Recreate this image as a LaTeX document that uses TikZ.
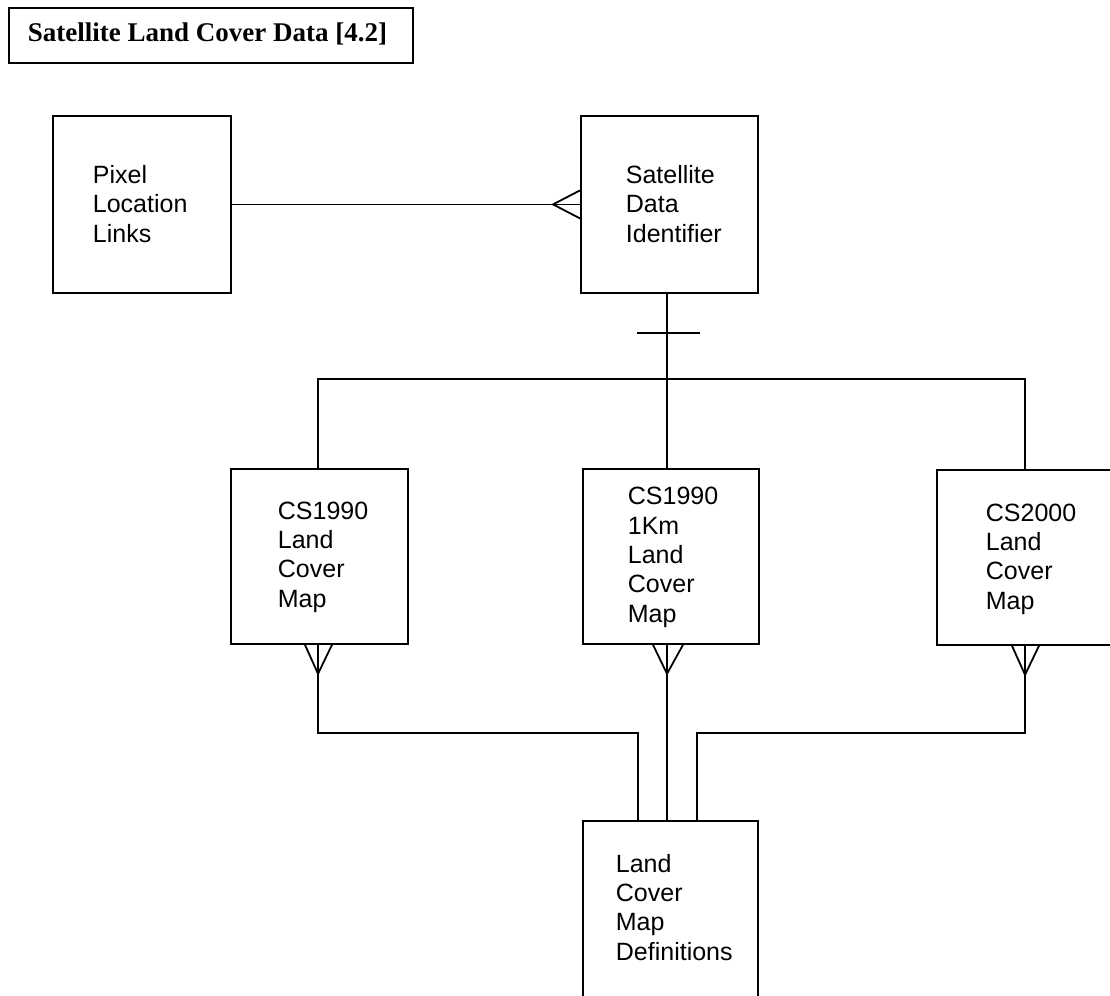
\documentclass[tikz,border=0pt]{standalone}
\usepackage{fontspec}
\setmainfont{Liberation Serif}
\newfontfamily\arialf{Liberation Sans}
\usetikzlibrary{calc}
\begin{document}
\begin{tikzpicture}[x=1pt,y=-1pt,line width=1.8pt,
  ebox/.style={draw,line width=1.8pt,anchor=north west,inner sep=0pt},
  lbl/.style={anchor=base west,align=left,inner sep=0pt,font=\arialf\fontsize{25}{29.3}\selectfont},
  ttl/.style={anchor=base west,inner sep=0pt,font=\bfseries\fontsize{27}{32}\selectfont}]
\useasboundingbox (0,0) rectangle (1110,995);
\clip (0,0) rectangle (1110,995);
% boxes
\node[ebox,minimum width=404pt,minimum height=55pt] (title) at (8,7) {};
\node[ebox,minimum width=178pt,minimum height=177pt] (pixel) at (52,115) {};
\node[ebox,minimum width=177pt,minimum height=177pt] (sat) at (580,115) {};
\node[ebox,minimum width=177pt,minimum height=175pt] (cs90) at (230,468) {};
\node[ebox,minimum width=176pt,minimum height=175pt] (mid) at (582,468) {};
\node[ebox,minimum width=180pt,minimum height=175pt] (cs20) at (936,469) {};
\node[ebox,minimum width=175pt,minimum height=200pt] (defs) at (582,820) {};
% texts (anchored at the baseline of the last line)
\node[ttl] (title-t) at (27,42) {Satellite Land Cover Data [4.2]};
\node[lbl] (pixel-t) at (92,242) {Pixel\\Location\\Links};
\node[lbl] (sat-t) at (625,242) {Satellite\\Data\\Identifier};
\node[lbl] (cs90-t) at (277,607) {CS1990\\Land\\Cover\\Map};
\node[lbl] (mid-t) at (627,622) {CS1990\\1Km\\Land\\Cover\\Map};
\node[lbl] (cs20-t) at (985,609) {CS2000\\Land\\Cover\\Map};
\node[lbl] (defs-t) at (615,960) {Land\\Cover\\Map\\Definitions};
% helper coordinates
\coordinate (j) at (667,379);
\coordinate (lx) at (318,379);
\coordinate (rx) at (1025,379);
\coordinate (bar) at (667,333);
\coordinate (la) at (638,733);
\coordinate (lc) at (697,733);
% pixel -- satellite (many at satellite)
\draw (pixel.east) -- (sat.west);
\draw ($(sat.west)+(0,-14)$) -- ($(sat.west)+(-27,0)$) -- ($(sat.west)+(0,14)$);
% satellite down to the three maps
\draw (sat.south -| j) -- (mid.north -| j);
\draw ($(bar)+(-30,0)$) -- ($(bar)+(33,0)$);
\draw (cs90.north -| lx) -- (lx) -- (rx) -- (cs20.north -| rx);
% maps down to definitions
\coordinate (fa) at (cs90.south -| lx);
\coordinate (fb) at (mid.south -| j);
\coordinate (fc) at (cs20.south -| rx);
\draw ($(fa)+(-13,0)$) -- ($(fa)+(0,29)$) -- ($(fa)+(14,0)$);
\draw ($(fb)+(-14,0)$) -- ($(fb)+(0,29)$) -- ($(fb)+(16,0)$);
\draw ($(fc)+(-13,0)$) -- ($(fc)+(0,29)$) -- ($(fc)+(14,0)$);
\draw (fa) |- (la) -- (defs.north -| la);
\draw (fb) -- (defs.north -| j);
\draw (fc) |- (lc) -- (defs.north -| lc);
\end{tikzpicture}
\end{document}
